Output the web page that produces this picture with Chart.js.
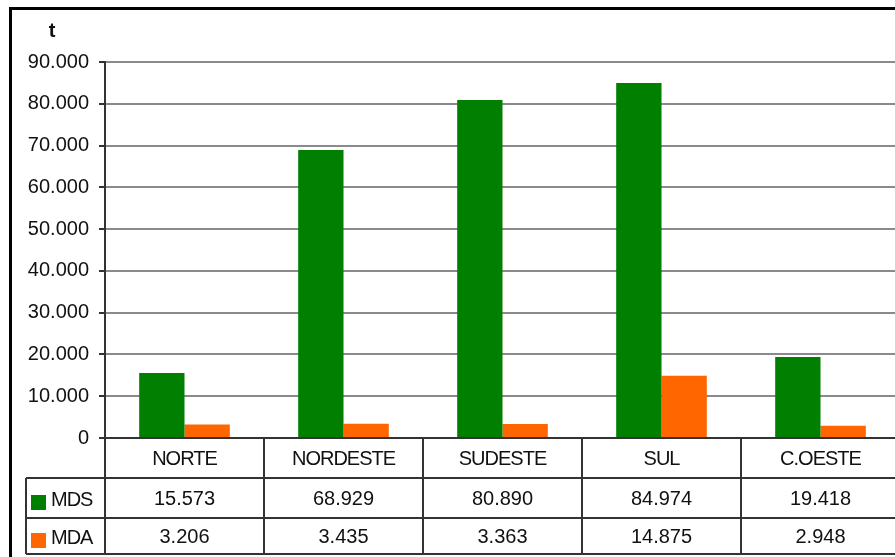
<!DOCTYPE html>
<html>
<head>
<meta charset="utf-8">
<script src="https://cdn.jsdelivr.net/npm/chart.js@4.4.1/dist/chart.umd.min.js"></script>
<style>
  html, body { margin: 0; padding: 0; background: #fff; overflow: hidden; }
  #chart { position: absolute; left: 0; top: 0; }
</style>
</head>
<body>
<canvas id="chart" width="910" height="557"></canvas>
<script>
const regions = ['NORTE', 'NORDESTE', 'SUDESTE', 'SUL', 'C.OESTE'];
const mds = [15573, 68929, 80890, 84974, 19418];
const mda = [3206, 3435, 3363, 14875, 2948];
const seriesNames = ['MDS', 'MDA'];
const seriesColors = ['#007f00', '#ff6600'];

const FONT = '"Liberation Sans", Arial, sans-serif';
const LINE = '#333';

// 90000 -> "90.000"
function fmt(v) {
  return String(v).replace(/\B(?=(\d{3})+(?!\d))/g, '.');
}

// data table under the plot, plus the unit and frame
const tablePlugin = {
  id: 'dataTable',
  afterDraw(chart) {
    const ctx = chart.ctx;
    const xs = chart.scales.x;
    const area = chart.chartArea;
    const n = regions.length;
    const w = (xs.right - xs.left) / n;
    const rowTop = [area.bottom, 478, 518];
    const rowBottom = 554;
    const tableLeft = 26;
    const rows = [mds, mda];

    ctx.save();
    ctx.strokeStyle = LINE;
    ctx.lineWidth = 2;

    // horizontal lines
    [478, 518, rowBottom].forEach(y => {
      ctx.beginPath();
      ctx.moveTo(tableLeft, y);
      ctx.lineTo(chart.width, y);
      ctx.stroke();
    });
    // left edge of the series rows
    ctx.beginPath();
    ctx.moveTo(tableLeft, 478);
    ctx.lineTo(tableLeft, rowBottom);
    ctx.stroke();
    // column separators
    for (let i = 0; i <= n; i++) {
      const x = xs.left + i * w;
      ctx.beginPath();
      ctx.moveTo(x, area.bottom);
      ctx.lineTo(x, rowBottom);
      ctx.stroke();
    }

    ctx.fillStyle = '#111';
    ctx.textAlign = 'center';
    ctx.textBaseline = 'middle';
    ctx.font = '20px ' + FONT;

    // category row
    ctx.letterSpacing = '-1px';
    regions.forEach((r, i) => {
      ctx.fillText(r, xs.left + (i + 0.5) * w, 459);
    });

    // value rows
    ctx.letterSpacing = '0px';
    rows.forEach((vals, r) => {
      const cy = (rowTop[r + 1] + (r === 0 ? 518 : rowBottom)) / 2;
      vals.forEach((v, i) => {
        ctx.fillText(fmt(v), xs.left + (i + 0.5) * w, cy + 1);
      });
    });

    // legend keys in the row headers
    ctx.textAlign = 'left';
    ctx.letterSpacing = '-1px';
    seriesNames.forEach((name, r) => {
      const cy = r === 0 ? 499 : 537;
      ctx.fillStyle = seriesColors[r];
      ctx.fillRect(31, cy - 4, 15, 15);
      ctx.fillStyle = '#111';
      ctx.fillText(name, 51, cy + 1);
    });

    // unit label
    ctx.letterSpacing = '0px';
    ctx.font = 'bold 20px ' + FONT;
    ctx.textAlign = 'center';
    ctx.fillText('t', 52, 31);

    // outer frame
    ctx.strokeStyle = '#000';
    ctx.lineWidth = 3;
    ctx.strokeRect(10.5, 8.5, 2000, 2000);
    ctx.restore();
  }
};

new Chart(document.getElementById('chart'), {
  type: 'bar',
  data: {
    labels: regions,
    datasets: [
      { label: seriesNames[0], data: mds, backgroundColor: seriesColors[0], borderWidth: 0 },
      { label: seriesNames[1], data: mda, backgroundColor: seriesColors[1], borderWidth: 0 }
    ]
  },
  options: {
    responsive: false,
    animation: false,
    devicePixelRatio: 1,
    layout: { padding: { left: 0, top: 62, right: 10, bottom: 0 } },
    datasets: { bar: { categoryPercentage: 0.57, barPercentage: 1 } },
    plugins: { legend: { display: false }, tooltip: { enabled: false } },
    scales: {
      x: {
        grid: { display: false },
        border: { display: true, color: LINE, width: 2 },
        ticks: { display: false },
        afterFit(scale) { scale.height = 119; }
      },
      y: {
        min: 0,
        max: 90000,
        ticks: {
          stepSize: 10000,
          padding: 10,
          color: '#111',
          font: { family: FONT, size: 20 },
          callback: v => fmt(v)
        },
        grid: { color: '#8a8a8a', lineWidth: 2, tickLength: 6, tickColor: LINE, tickWidth: 2 },
        border: { color: LINE, width: 2 },
        afterFit(scale) { scale.width = 105; }
      }
    }
  },
  plugins: [tablePlugin]
});
</script>
</body>
</html>
